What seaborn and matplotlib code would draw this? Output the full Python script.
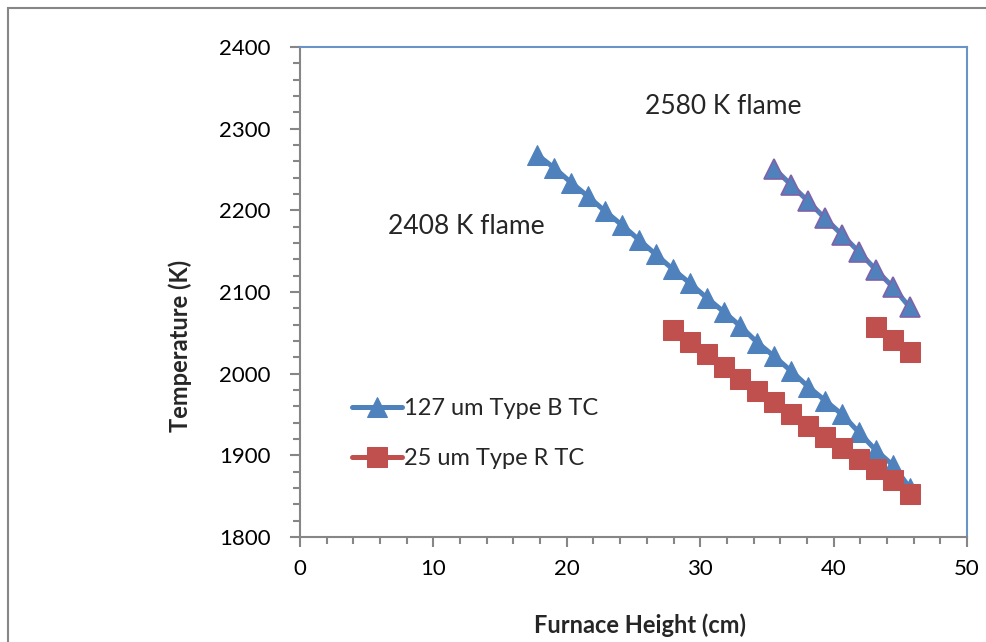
"""
Furnace temperature profiles measured with two thermocouples
"""

import numpy as np
import pandas as pd
import matplotlib
matplotlib.use('Agg')
import matplotlib.pyplot as plt
import seaborn as sns
from matplotlib.patches import Rectangle
from matplotlib.ticker import MultipleLocator

# Furnace heights (cm), step of 1.27 cm
height_b_2408 = [17.78, 19.05, 20.32, 21.59, 22.86, 24.13, 25.40, 26.67, 27.94, 29.21,
                 30.48, 31.75, 33.02, 34.29, 35.56, 36.83, 38.10, 39.37, 40.64, 41.91,
                 43.18, 44.45, 45.72]
temp_b_2408 = [2268, 2252, 2234, 2217, 2199, 2182, 2164, 2146, 2128, 2111,
               2093, 2076, 2058, 2038, 2021, 2003, 1984, 1967, 1950, 1928,
               1906, 1888, 1860]

height_r_2408 = [27.94, 29.21, 30.48, 31.75, 33.02, 34.29, 35.56, 36.83, 38.10, 39.37,
                 40.64, 41.91, 43.18, 44.45, 45.72]
temp_r_2408 = [2053, 2039, 2024, 2008, 1993, 1979, 1965, 1950, 1936, 1922,
               1909, 1896, 1883, 1870, 1853]

height_b_2580 = [35.56, 36.83, 38.10, 39.37, 40.64, 41.91, 43.18, 44.45, 45.72]
temp_b_2580 = [2251, 2231, 2211, 2190, 2170, 2149, 2127, 2106, 2081]

height_r_2580 = [43.18, 44.45, 45.72]
temp_r_2580 = [2057, 2041, 2026]

labels = ['127 um Type B TC', '25 um Type R TC']
blue = '#4F81BD'
red = '#C0504D'

sns.set_style('ticks')
plt.rcParams['font.family'] = ['Lato', 'DejaVu Sans']

fig = plt.figure(figsize=(9.87, 6.42), dpi=100)
ax = fig.add_axes([0.304, 0.1636, 0.6757, 0.7632])

df_b1 = pd.DataFrame({'h': height_b_2408, 't': temp_b_2408})
df_r1 = pd.DataFrame({'h': height_r_2408, 't': temp_r_2408})
df_b2 = pd.DataFrame({'h': height_b_2580, 't': temp_b_2580})
df_r2 = pd.DataFrame({'h': height_r_2580, 't': temp_r_2580})

sns.lineplot(data=df_b1, x='h', y='t', ax=ax, color=blue, linewidth=3.6,
             marker='^', markersize=14, markeredgecolor=blue, label=labels[0])
sns.lineplot(data=df_b2, x='h', y='t', ax=ax, color=blue, linewidth=3.6,
             marker='^', markersize=14, markeredgecolor='#7F62A8', markeredgewidth=1.2)
sns.lineplot(data=df_r1, x='h', y='t', ax=ax, color=red, linewidth=3.6,
             marker='s', markersize=14, markeredgecolor=red, label=labels[1])
sns.lineplot(data=df_r2, x='h', y='t', ax=ax, color=red, linewidth=3.6,
             marker='s', markersize=14, markeredgecolor=red)

ax.set_xlim(0, 50)
ax.set_ylim(1800, 2400)
ax.xaxis.set_major_locator(MultipleLocator(10))
ax.xaxis.set_minor_locator(MultipleLocator(2))
ax.yaxis.set_major_locator(MultipleLocator(100))
ax.yaxis.set_minor_locator(MultipleLocator(20))

ax.tick_params(which='major', length=7, width=1.5, color='#868686', labelsize=16,
               labelcolor='black')
ax.tick_params(which='minor', length=5, width=1.5, color='#868686')
ax.tick_params(axis='x', which='major', pad=9)
ax.tick_params(axis='y', which='major', pad=14)

for side in ['left', 'bottom']:
    ax.spines[side].set_color('#868686')
    ax.spines[side].set_linewidth(1.5)
for side in ['top', 'right']:
    ax.spines[side].set_visible(True)
    ax.spines[side].set_color('#6A93C8')
    ax.spines[side].set_linewidth(1.5)

ax.set_xlabel('Furnace Height (cm)', fontsize=17, fontweight='bold')
ax.set_ylabel('Temperature (K)', fontsize=17, fontweight='bold')
ax.xaxis.set_label_coords(0.51, -0.155)
ax.yaxis.set_label_coords(-0.162, 0.39)

ax.text(25.86, 2327, '2580 K flame', fontsize=19, va='center', ha='left')
ax.text(6.6, 2180, '2408 K flame', fontsize=19, va='center', ha='left')

ax.legend(loc='upper left', bbox_to_anchor=(0.064, 0.302), frameon=False,
          fontsize=17, handlelength=2.1, handletextpad=0.1, labelspacing=1.2,
          borderaxespad=0)

# outer chart-area border (only left and top edges are visible in the crop)
fig.patches.append(Rectangle((0.0081, -0.1), 1.2, 1.0875, transform=fig.transFigure,
                             fill=False, edgecolor='#868686', linewidth=1.5))

fig.savefig('out.png', dpi=100)
plt.close(fig)
